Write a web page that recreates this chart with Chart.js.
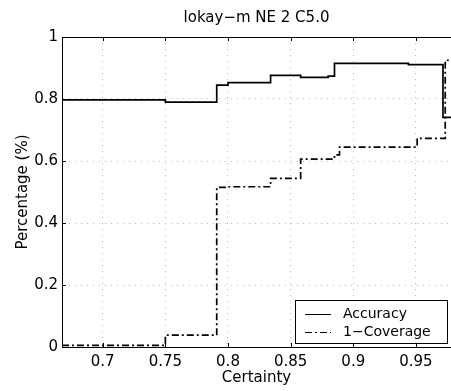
<!DOCTYPE html>
<html>
<head>
<meta charset="utf-8">
<script src="https://cdn.jsdelivr.net/npm/chart.js@4"></script>
<style>
  html, body { margin: 0; padding: 0; background: #fff; }
  #wrap { width: 451px; height: 391px; }
</style>
</head>
<body>
<div id="wrap"><canvas id="chart" width="451" height="391"></canvas></div>
<script>
// values
const certAcc = [0.6675, 0.750, 0.791, 0.800, 0.834, 0.858, 0.880, 0.885, 0.944, 0.9716, 0.978];
const accuracy = [0.797, 0.790, 0.845, 0.853, 0.876, 0.870, 0.874, 0.915, 0.911, 0.741, 0.741];
const certCov = [0.6675, 0.750, 0.791, 0.800, 0.834, 0.858, 0.885, 0.889, 0.951, 0.9734, 0.978];
const coverage = [0.005, 0.038, 0.515, 0.517, 0.544, 0.606, 0.620, 0.645, 0.673, 0.925, 0.925];
const xTicks = [0.7, 0.75, 0.8, 0.85, 0.9, 0.95];
const yTicks = [0, 0.2, 0.4, 0.6, 0.8, 1];
const chartTitle = 'lokay\u2212m NE 2 C5.0';

const FONT = 'DejaVu Sans';

// title over the plot, box top edge, inward tick marks and the legend inside the plot
const framePlugin = {
  id: 'frame',
  afterDraw(chart) {
    const { ctx, chartArea: a, scales } = chart;
    ctx.save();
    ctx.fillStyle = '#000';
    ctx.font = '15px "' + FONT + '"';
    ctx.textAlign = 'center';
    ctx.textBaseline = 'middle';
    ctx.fillText(chartTitle, (a.left + a.right) / 2, 18);

    ctx.strokeStyle = '#000';
    ctx.lineWidth = 1;
    ctx.beginPath();
    ctx.moveTo(a.left, a.top + 0.5);
    ctx.lineTo(a.right, a.top + 0.5);
    xTicks.forEach(v => {
      const px = Math.round(scales.x.getPixelForValue(v)) + 0.5;
      ctx.moveTo(px, a.bottom); ctx.lineTo(px, a.bottom - 4);
      ctx.moveTo(px, a.top); ctx.lineTo(px, a.top + 4);
    });
    yTicks.forEach(v => {
      const py = Math.round(scales.y.getPixelForValue(v)) + 0.5;
      ctx.moveTo(a.left, py); ctx.lineTo(a.left + 4, py);
    });
    ctx.stroke();

    // legend
    const bx = 295, by = 300, bw = 152, bh = 43;
    ctx.fillStyle = '#fff';
    ctx.fillRect(bx, by, bw, bh);
    ctx.strokeRect(bx + 0.5, by + 0.5, bw, bh);
    ctx.font = '14px "' + FONT + '"';
    ctx.textAlign = 'left';
    ctx.textBaseline = 'middle';
    chart.data.datasets.forEach((ds, i) => {
      const y = by + 14 + i * 18;
      ctx.setLineDash(ds.borderDash || []);
      ctx.lineWidth = 1;
      ctx.beginPath();
      ctx.moveTo(bx + 10, y + 0.5);
      ctx.lineTo(bx + 36, y + 0.5);
      ctx.stroke();
      ctx.setLineDash([]);
      ctx.fillStyle = '#000';
      ctx.fillText(ds.label, bx + 48, y);
    });
    ctx.restore();
  }
};

new Chart(document.getElementById('chart'), {
  type: 'line',
  data: {
    datasets: [
      {
        label: 'Accuracy',
        data: certAcc.map((x, i) => ({ x, y: accuracy[i] })),
        borderColor: '#000',
        borderWidth: 1.7,
        stepped: 'before',
        pointRadius: 0,
        fill: false
      },
      {
        label: '1\u2212Coverage',
        data: certCov.map((x, i) => ({ x, y: coverage[i] })),
        borderColor: '#000',
        borderWidth: 1.7,
        borderDash: [7, 3, 2, 3],
        stepped: 'before',
        pointRadius: 0,
        fill: false
      }
    ]
  },
  options: {
    responsive: false,
    animation: false,
    layout: { padding: { left: 0, right: 0, top: 37, bottom: 0 } },
    plugins: {
      legend: { display: false },
      tooltip: { enabled: false },
      title: { display: false }
    },
    scales: {
      x: {
        type: 'linear',
        min: 0.6675,
        max: 0.978,
        afterBuildTicks: s => { s.ticks = xTicks.map(v => ({ value: v })); },
        afterFit: s => { s.height = 44; },
        ticks: {
          color: '#000',
          font: { family: FONT, size: 15 },
          padding: 6,
          maxRotation: 0,
          callback: v => String(v)
        },
        grid: { color: '#bdbdbd', lineWidth: 1, drawTicks: false },
        border: { display: true, color: '#000', width: 1, dash: [1, 5] },
        title: {
          display: true,
          text: 'Certainty',
          color: '#000',
          font: { family: FONT, size: 15 },
          padding: { top: 0, bottom: 4 }
        }
      },
      y: {
        min: 0,
        max: 1,
        afterBuildTicks: s => { s.ticks = yTicks.map(v => ({ value: v })); },
        afterFit: s => { s.width = 62; },
        ticks: {
          color: '#000',
          font: { family: FONT, size: 15 },
          padding: 4,
          callback: v => String(v)
        },
        grid: { color: '#bdbdbd', lineWidth: 1, drawTicks: false },
        border: { display: true, color: '#000', width: 1, dash: [1, 5] },
        title: {
          display: true,
          text: 'Percentage (%)',
          color: '#000',
          font: { family: FONT, size: 15 },
          padding: { top: 14, bottom: 0 }
        }
      }
    }
  },
  plugins: [framePlugin]
});
</script>
</body>
</html>
